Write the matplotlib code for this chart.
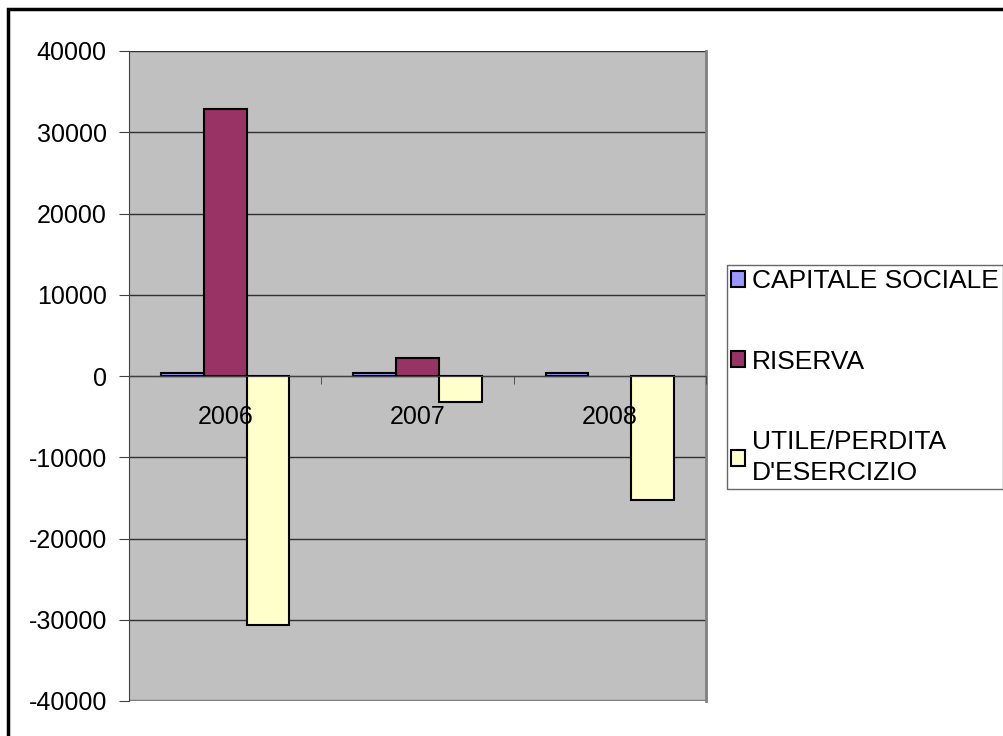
import numpy as np
import matplotlib.pyplot as plt
from matplotlib.patches import Rectangle

plt.rcParams['font.family'] = ['Liberation Sans', 'DejaVu Sans']
plt.rcParams['axes.unicode_minus'] = False

anni = ['2006', '2007', '2008']
capitale = [400, 400, 400]
riserva = [32900, 2200, 0]
utile = [-30700, -3200, -15300]

serie = ['CAPITALE SOCIALE', 'RISERVA', "UTILE/PERDITA\nD'ESERCIZIO"]
colori = ['#9999FF', '#993366', '#FFFFCC']

fig = plt.figure(figsize=(10.04, 7.36), dpi=100)
ax = fig.add_axes([129/1004, 1 - 701/736, (706-129)/1004, (701-51)/736])
ax.set_facecolor('#C0C0C0')

x = np.arange(len(anni))
w = 1 / 4.5
for i, vals in enumerate([capitale, riserva, utile]):
    barre = ax.bar(x + (i - 1) * w, vals, w, color=colori[i], edgecolor='black',
                   linewidth=1.5, label=serie[i], zorder=3)
    # le barre a zero non si vedono nell'originale
    for b, v in zip(barre, vals):
        if v == 0:
            b.set_linewidth(0)

ax.set_xlim(-0.5, 2.5)
ax.set_ylim(-40000, 40000)
ax.set_yticks(np.arange(-40000, 40001, 10000))
ax.yaxis.grid(True, color='#303030', linewidth=1)
ax.set_axisbelow(True)
ax.tick_params(axis='y', labelsize=18, length=7, color='#404040', pad=9)

# asse x a zero, etichette sopra le barre
ax.spines['bottom'].set_position(('data', 0))
ax.spines['bottom'].set_color('#404040')
ax.spines['bottom'].set_zorder(4)
ax.spines['top'].set_visible(False)
ax.spines['right'].set_color('#808080')
ax.spines['right'].set_linewidth(2)
ax.spines['left'].set_color('#404040')
ax.set_xticks(x)
ax.set_xticklabels(anni)
ax.set_xticks([0.5, 1.5, 2.5], minor=True)
ax.tick_params(axis='x', which='major', length=0, labelsize=18, pad=21)
ax.tick_params(axis='x', which='minor', length=6, color='#404040')
ax.xaxis.set_zorder(5)

# bordo inferiore area grafico
ax.axhline(-40000, color='#808080', linewidth=2.5, zorder=2)

leg = fig.legend(loc='upper left', bbox_to_anchor=(727/1004, 1 - 265/736),
                 fontsize=19, frameon=True, fancybox=False, edgecolor='#404040',
                 handlelength=0.55, handleheight=0.55, handletextpad=0.25,
                 labelspacing=2.15, borderpad=0.15, borderaxespad=0)
leg.get_frame().set_linewidth(1)
for t in leg.get_texts():
    t.set_linespacing(1.35)

# cornice esterna
fig.patches.append(Rectangle((8/1004, -0.05), 1.1, 1 - 9/736 + 0.05,
                             transform=fig.transFigure, fill=False,
                             edgecolor='black', linewidth=2.5))

fig.savefig('out.png', dpi=100)
